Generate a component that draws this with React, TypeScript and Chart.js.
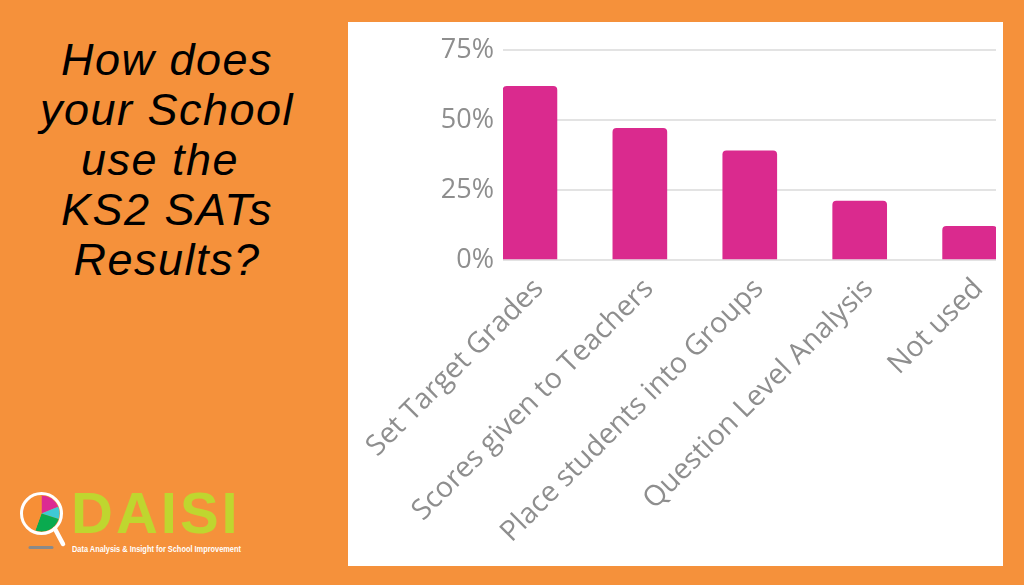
import React, { useEffect, useRef } from "react";
import { Chart, registerables } from "chart.js";

Chart.register(...registerables);

const categories = [
  "Set Target Grades",
  "Scores given to Teachers",
  "Place students into Groups",
  "Question Level Analysis",
  "Not used",
];
const shareValues = [62, 47, 39, 21, 12];
const yTickValues = [0, 25, 50, 75];

const titleLines = ["How does", "your School", "use the ", "KS2 SATs", "Results?"];

const ORANGE = "#F5913B";
const MAGENTA = "#DA2A8E";
const GREY_TEXT = "#8E8E8E";
const GRID = "#E3E3E3";
const LIME = "#BFD62F";

function BarChart() {
  const ref = useRef<HTMLCanvasElement | null>(null);
  useEffect(() => {
    if (!ref.current) return;
    const chart = new Chart(ref.current, {
      type: "bar",
      data: {
        datasets: [
          {
            data: shareValues.map((v, i) => ({ x: i, y: v })),
            backgroundColor: MAGENTA,
            borderRadius: { topLeft: 4, topRight: 4, bottomLeft: 0, bottomRight: 0 },
            borderSkipped: "bottom",
            barThickness: 54,
          } as any,
        ],
      },
      options: {
        animation: false,
        responsive: false,
        maintainAspectRatio: false,
        layout: { padding: { left: 0, right: 7, top: 28, bottom: 0 } },
        plugins: { legend: { display: false }, tooltip: { enabled: false } },
        scales: {
          x: {
            type: "linear",
            bounds: "data",
            offset: false,
            min: -0.245,
            max: 4.24,
            grid: { display: false, offset: false },
            border: { display: false },
            afterFit: (s: any) => {
              s.height = 306;
            },
            afterBuildTicks: (s: any) => {
              s.ticks = categories.map((_, i) => ({ value: i }));
            },
            ticks: {
              autoSkip: false,
              maxRotation: 45,
              minRotation: 45,
              padding: 4,
              labelOffset: 9,
              color: GREY_TEXT,
              font: { family: "'Open Sans', sans-serif", size: 28.5 },
              callback: (v: any) => categories[Math.round(Number(v))] ?? "",
            },
          },
          y: {
            min: 0,
            max: 75,
            afterFit: (s: any) => {
              s.width = 155;
            },
            afterBuildTicks: (s: any) => {
              s.ticks = yTickValues.map((v) => ({ value: v }));
            },
            grid: { color: GRID, lineWidth: 2, drawTicks: false },
            border: { display: false },
            ticks: {
              padding: 9,
              color: GREY_TEXT,
              font: { family: "'Open Sans', sans-serif", size: 27 },
              callback: (v: any) => `${v}%`,
            },
          },
        },
      } as any,
    });
    return () => chart.destroy();
  }, []);
  return <canvas ref={ref} width={655} height={544} style={{ display: "block" }} />;
}

function Logo() {
  const cx = 41.5;
  const cy = 513.5;
  const r = 18;
  const pt = (deg: number) => {
    const a = ((deg - 90) * Math.PI) / 180;
    return `${cx + r * Math.cos(a)},${cy + r * Math.sin(a)}`;
  };
  const slice = (a0: number, a1: number) =>
    `M${cx},${cy} L${pt(a0)} A${r},${r} 0 ${a1 - a0 > 180 ? 1 : 0} 1 ${pt(a1)} Z`;
  return (
    <>
      <svg
        width={80}
        height={80}
        viewBox="0 480 80 80"
        style={{ position: "absolute", left: 0, top: 480 }}
      >
        <line x1={30} y1={547.5} x2={52} y2={547.5} stroke="#8a8a8a" strokeWidth={3} strokeLinecap="round" />
        <line x1={55} y1={529} x2={63} y2={544} stroke="#fff" strokeWidth={4.5} strokeLinecap="round" />
        <path d={slice(0, 68)} fill="#DC2A92" />
        <path d={slice(68, 108)} fill="#3FC9D4" />
        <path d={slice(108, 200)} fill="#0AAA4F" />
        <path d={slice(200, 360)} fill="#F78F36" />
        <circle cx={cx} cy={cy} r={20} fill="none" stroke="#fff" strokeWidth={3} />
      </svg>
      <div
        style={{
          position: "absolute",
          left: 71,
          top: 480,
          fontFamily: "'Liberation Sans', Arial, sans-serif",
          fontWeight: "bold",
          fontSize: 58,
          lineHeight: "66px",
          letterSpacing: 3,
          color: LIME,
        }}
      >
        DAISI
      </div>
      <div
        style={{
          position: "absolute",
          left: 72,
          top: 544,
          fontFamily: "'Liberation Sans', Arial, sans-serif",
          fontWeight: "bold",
          fontSize: 8.6,
          lineHeight: "10px",
          color: "#fff",
          whiteSpace: "nowrap",
          transform: "scaleX(0.86)",
          transformOrigin: "left top",
        }}
      >
        Data Analysis &amp; Insight for School Improvement
      </div>
    </>
  );
}

export default function App() {
  return (
    <div
      style={{
        position: "absolute",
        left: 0,
        top: 0,
        width: 1024,
        height: 585,
        background: ORANGE,
        overflow: "hidden",
      }}
    >
      <div
        style={{
          position: "absolute",
          left: 0,
          top: 35,
          width: 334,
          textAlign: "center",
          fontFamily: "'Liberation Sans', Arial, sans-serif",
          fontStyle: "italic",
          fontSize: 45,
          letterSpacing: 1.5,
          lineHeight: "50px",
          color: "#000",
          whiteSpace: "pre",
        }}
      >
        {titleLines.map((t, i) => (
          <div key={i}>{t}</div>
        ))}
      </div>
      <Logo />
      <div
        style={{
          position: "absolute",
          left: 348,
          top: 22,
          width: 655,
          height: 544,
          background: "#fff",
        }}
      >
        <BarChart />
      </div>
    </div>
  );
}
